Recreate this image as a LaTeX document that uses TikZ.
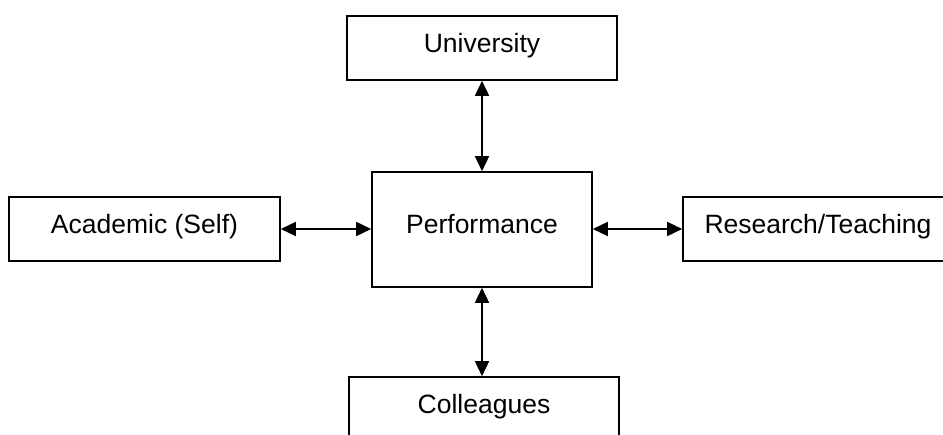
\documentclass[tikz,border=0pt]{standalone}
\usepackage{fontspec}
\setmainfont{Liberation Sans}
\usetikzlibrary{arrows.meta}
\begin{document}
\begin{tikzpicture}[x=1pt,y=-1pt,
  box/.style={draw, line width=1.6pt, inner sep=0pt,
    font=\fontsize{26.5}{30}\selectfont, text height=19pt, text depth=10pt},
  link/.style={line width=1.6pt,
    {Triangle[length=15pt,width=14pt]}-{Triangle[length=15pt,width=14pt]}}]
\useasboundingbox (0,0) rectangle (943,435);
\clip (0,0) rectangle (943,435);
% outer boxes around the central node
\node[box, minimum width=270pt, minimum height=64pt] (uni) at (482,48) {University};
\node[box, minimum width=220pt, minimum height=115pt] (perf) at (482,229.5) {Performance};
\node[box, minimum width=271pt, minimum height=64pt] (acad) at (144.5,229) {Academic (Self)};
\node[box, minimum width=270pt, minimum height=64pt] (res) at (818,229) {Research/Teaching};
\node[box, minimum width=270pt, minimum height=64pt] (coll) at (484,409) {Colleagues};
% two-way links
\draw[link] (uni.south) -- (perf.north);
\draw[link] (perf.south) -- (perf.south |- coll.north);
\draw[link] (acad.east) -- (acad.east -| perf.west);
\draw[link] (res.west -| perf.east) -- (res.west);
\end{tikzpicture}
\end{document}
